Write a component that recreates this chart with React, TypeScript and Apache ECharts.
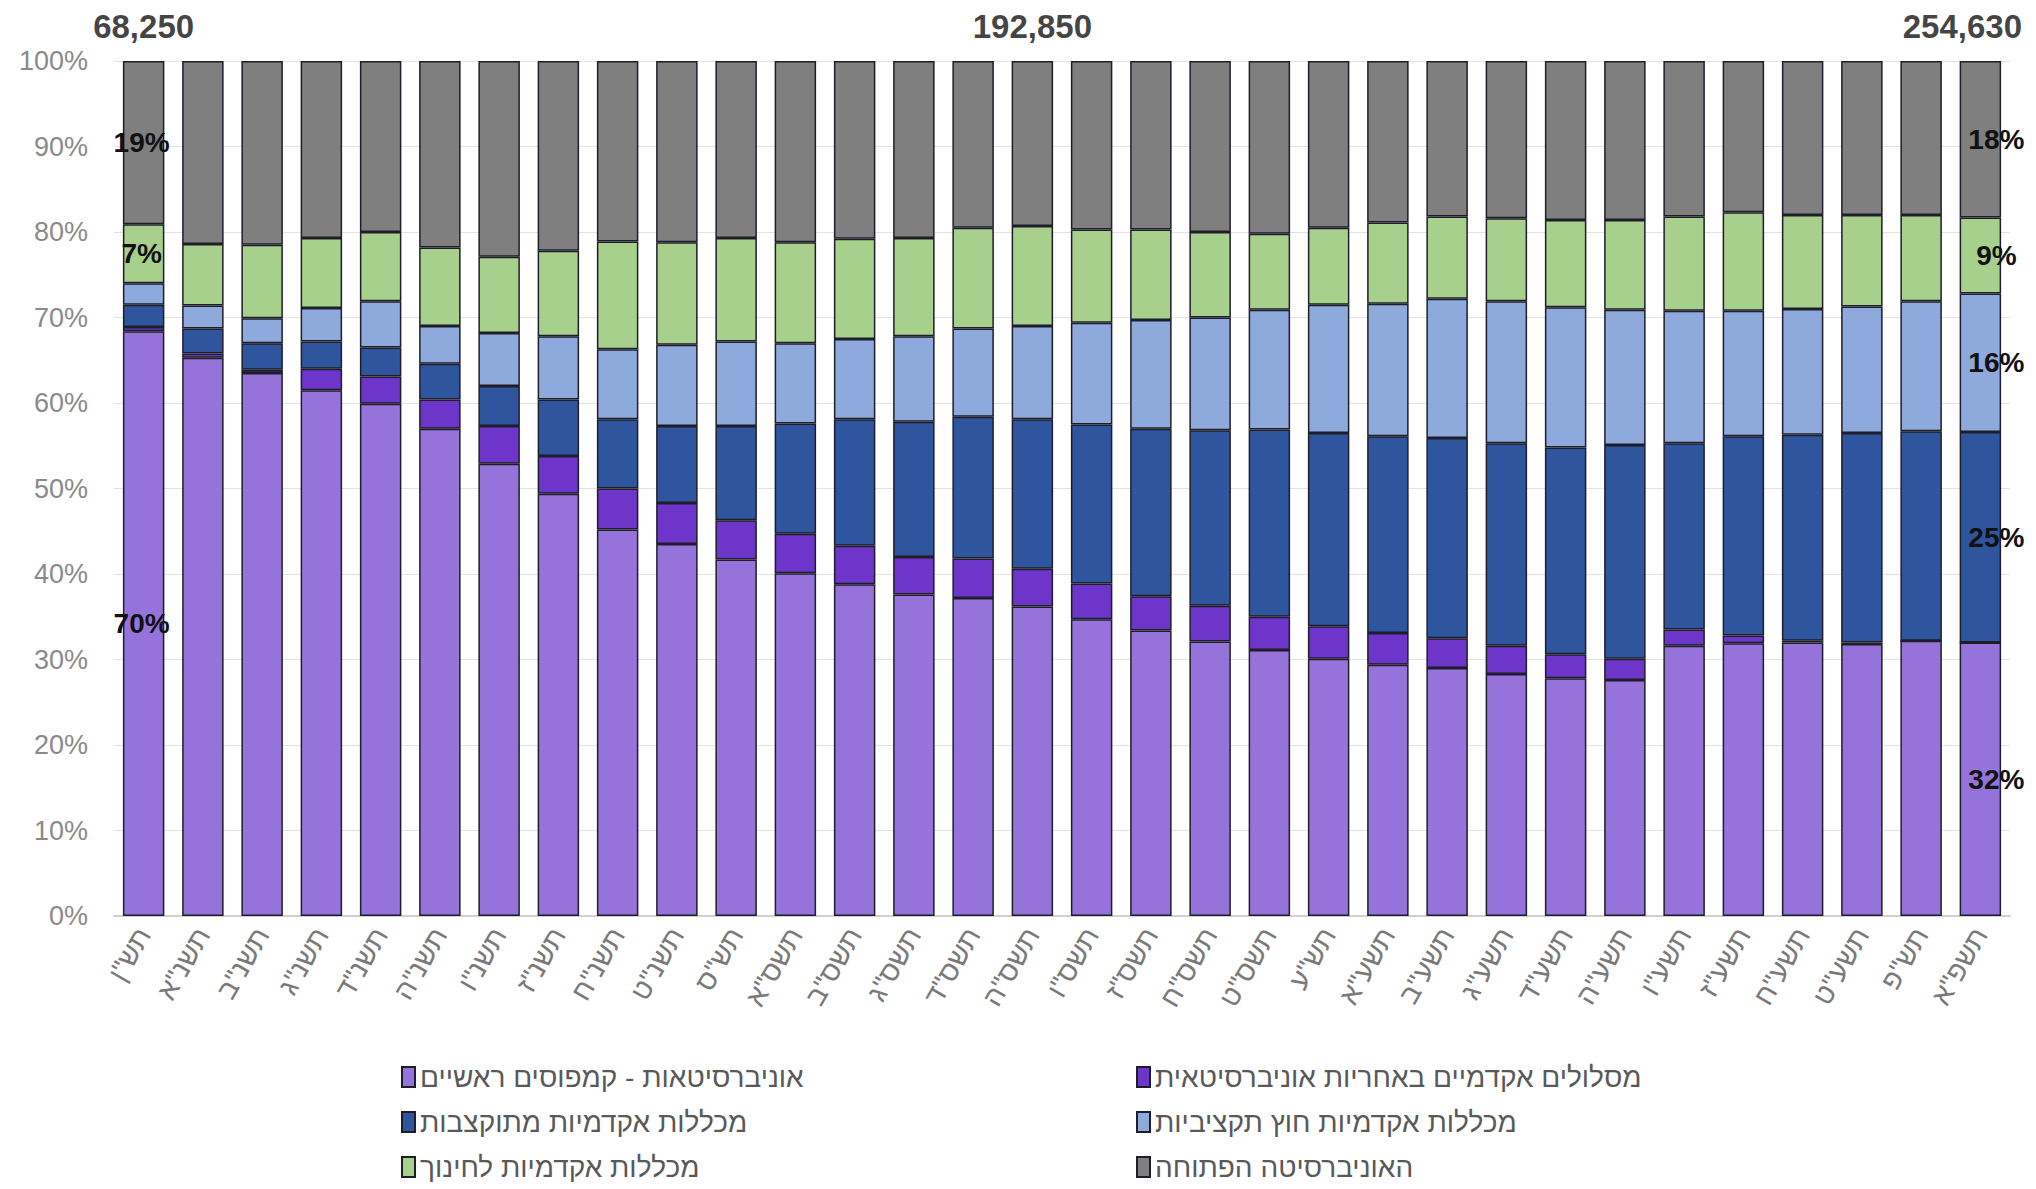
import React, { useEffect, useRef } from "react";
import * as echarts from "echarts";

const categories = ['תש"ן','תשנ"א','תשנ"ב','תשנ"ג','תשנ"ד','תשנ"ה','תשנ"ו','תשנ"ז','תשנ"ח','תשנ"ט','תש"ס','תשס"א','תשס"ב','תשס"ג','תשס"ד','תשס"ה','תשס"ו','תשס"ז','תשס"ח','תשס"ט','תש"ע','תשע"א','תשע"ב','תשע"ג','תשע"ד','תשע"ה','תשע"ו','תשע"ז','תשע"ח','תשע"ט','תש"פ','תשפ"א'];

const seriesNames = [
  "אוניברסיטאות - קמפוסים ראשיים",
  "מסלולים אקדמיים באחריות אוניברסיטאית",
  "מכללות אקדמיות מתוקצבות",
  "מכללות אקדמיות חוץ תקציביות",
  "מכללות אקדמיות לחינוך",
  "האוניברסיטה הפתוחה",
];

const universities = [68.4,65.3,63.5,61.5,59.9,57.0,52.9,49.4,45.2,43.5,41.7,40.1,38.8,37.6,37.2,36.2,34.7,33.4,32.1,31.1,30.1,29.4,29.0,28.3,27.8,27.6,31.6,31.9,32.0,31.8,32.2,32.0];
const uniTracks = [0.5,0.5,0.4,2.5,3.2,3.4,4.4,4.4,4.8,4.8,4.6,4.6,4.5,4.4,4.6,4.4,4.2,4.0,4.2,3.9,3.8,3.7,3.5,3.3,2.8,2.5,1.9,0.9,0.2,0.2,0,0];
const budgeted = [2.6,2.9,3.1,3.2,3.4,4.2,4.7,6.6,8.1,9.0,11.0,12.9,14.8,15.8,16.6,17.5,18.6,19.6,20.5,21.9,22.6,23.0,23.4,23.7,24.2,25.0,21.8,23.3,24.1,24.5,24.5,24.6];
const nonBudgeted = [2.5,2.7,2.9,3.9,5.4,4.4,6.2,7.4,8.2,9.5,9.9,9.4,9.4,10.0,10.3,10.9,11.9,12.7,13.2,14.0,15.0,15.5,16.3,16.6,16.4,15.8,15.5,14.7,14.7,14.8,15.2,16.2];
const education = [6.9,7.2,8.6,8.2,8.1,9.2,8.9,10.0,12.6,12.0,12.1,11.8,11.7,11.5,11.8,11.7,10.9,10.6,10.0,8.9,9.0,9.5,9.6,9.7,10.2,10.5,11.0,11.5,11.0,10.7,10.1,8.9];
const openUniv = [19.1,21.4,21.5,20.7,20.0,21.8,22.9,22.2,21.1,21.2,20.7,21.2,20.8,20.7,19.5,19.3,19.7,19.7,20.0,20.2,19.5,18.9,18.2,18.4,18.6,18.6,18.2,17.7,18.0,18.0,18.0,18.3];

const seriesValues = [universities, uniTracks, budgeted, nonBudgeted, education, openUniv];
const seriesColors = ["#9673DB", "#6E35CA", "#2F559E", "#8EA9DC", "#A8D08D", "#7F7F7F"];

// data labels shown on first and last bars (per series)
const firstBarLabels = ["70%", "", "", "", "7%", "19%"];
const lastBarLabels = ["32%", "", "25%", "16%", "9%", "18%"];

// total counts shown above bars
const totalIndexes = [0, 15, 31];
const totalValues = [68250, 192850, 254630];

const yTicks = [0, 10, 20, 30, 40, 50, 60, 70, 80, 90, 100];

const FONT = "'Liberation Sans', 'DejaVu Sans', sans-serif";

export default function App() {
  const ref = useRef<HTMLDivElement>(null);
  useEffect(() => {
    document.body.style.margin = "0";
    if (!ref.current) return;
    const chart = echarts.init(ref.current, null, { renderer: "svg" });
    const last = categories.length - 1;

    const barSeries = seriesValues.map((vals, s) => ({
      name: seriesNames[s],
      type: "bar",
      stack: "total",
      barWidth: "70%",
      itemStyle: { color: seriesColors[s], borderColor: "#1e1e2a", borderWidth: 1.5 },
      label: { show: false },
      data: vals.map((v, i) => {
        if (i === 0 && firstBarLabels[s]) {
          return {
            value: v,
            label: { show: true, position: "inside", formatter: firstBarLabels[s], color: "#111", fontWeight: "bold", fontSize: 28, fontFamily: FONT, offset: [-2, 0] },
          };
        }
        if (i === last && lastBarLabels[s]) {
          return {
            value: v,
            label: { show: true, position: "inside", formatter: lastBarLabels[s], color: "#111", fontWeight: "bold", fontSize: 28, fontFamily: FONT, offset: [16, 0] },
          };
        }
        return v;
      }),
    }));

    const totalsSeries = {
      type: "scatter",
      name: "totals",
      symbolSize: 0,
      silent: true,
      clip: false,
      data: totalIndexes.map((idx, k) => ({
        value: [idx, 100],
        label: {
          show: true,
          position: "top",
          distance: 18,
          formatter: totalValues[k].toLocaleString("en-US"),
          color: "#111",
          fontWeight: "bold",
          fontSize: 33,
          fontFamily: FONT,
          offset: [idx === last ? -18 : 0, 0],
        },
      })),
    };

    const legendCommon = {
      orient: "vertical",
      top: 1058,
      itemWidth: 13,
      itemHeight: 20,
      itemGap: 17,
      icon: "rect",
      textStyle: { color: "#595959", fontSize: 28, fontFamily: FONT, lineHeight: 28 },
    };

    chart.setOption({
      animation: false,
      backgroundColor: "#ffffff",
      grid: { left: 114, right: 26, top: 61, bottom: 273, containLabel: false },
      legend: [
        { ...legendCommon, left: 396, data: [seriesNames[0], seriesNames[2], seriesNames[4]] },
        { ...legendCommon, left: 1131, data: [seriesNames[1], seriesNames[3], seriesNames[5]] },
      ],
      xAxis: {
        type: "category",
        data: categories,
        axisTick: { show: false },
        axisLine: { show: true, lineStyle: { color: "#d0d0d0", width: 2 } },
        axisLabel: { rotate: 60, color: "#7a7a7a", fontSize: 28, fontFamily: FONT, margin: 14, interval: 0 },
      },
      yAxis: {
        type: "value",
        min: yTicks[0],
        max: yTicks[yTicks.length - 1],
        interval: 10,
        axisLine: { show: false },
        axisTick: { show: false },
        splitLine: { lineStyle: { color: "#e3e3e3", width: 1 } },
        axisLabel: { formatter: "{value}%", color: "#8a8a8a", fontSize: 27, fontFamily: FONT, margin: 26 },
      },
      series: [...barSeries, totalsSeries],
    });
    return () => chart.dispose();
  }, []);
  return <div ref={ref} style={{ width: 2036, height: 1189 }} />;
}
